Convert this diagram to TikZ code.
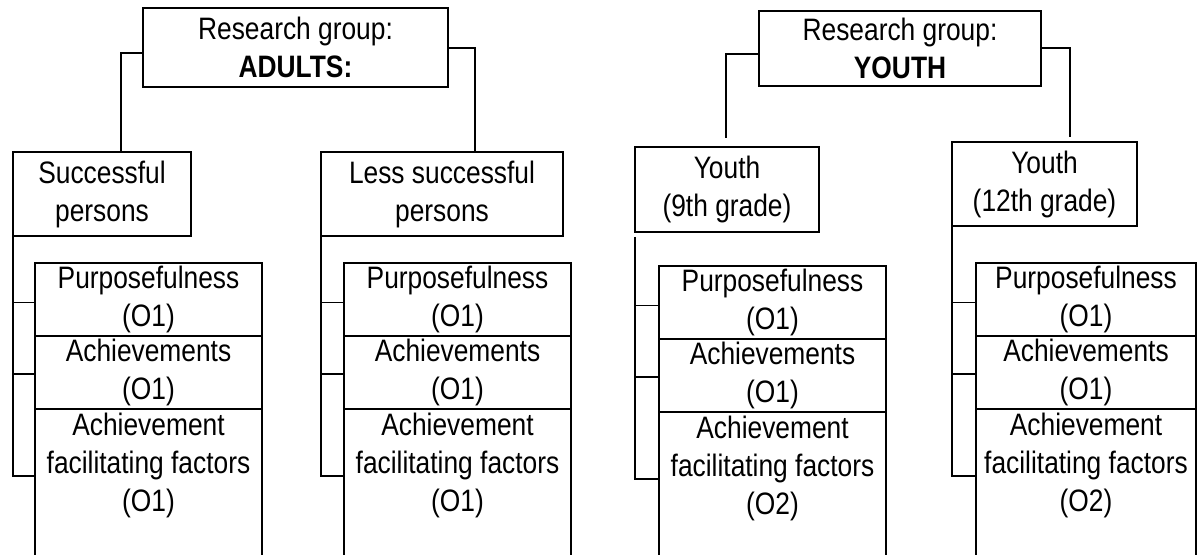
\documentclass[tikz,border=0pt]{standalone}
\usepackage{fontspec}
\setmainfont[FakeStretch=0.85]{Liberation Sans}
% one block of criteria under a group box:
% #1 prefix, #2 group node, #3 centre x, #4 top y, #5 width, #6 code of last block, #7 gap below group box
\newcommand\critcol[7]{%
  \node[box,minimum width=#5,minimum height=36.5pt] (#1p) at (#3,#4+36.5) {Purposefulness\\(O1)};
  \node[box,minimum width=#5,minimum height=36.5pt] (#1a) at (#3,#4+109.5) {Achievements\\(O1)};
  \node[minimum width=#5,minimum height=56pt,anchor=north] (#1f) at (#3,#4+146) {Achievement\\facilitating factors\\(#6)};
  \draw[line] (#1f.north west |- bot) -- (#1f.north west) -- (#1f.north east) -- (#1f.north east |- bot);
  \path (#1p.north west) ++(0,39.5) coordinate (#1t1);
  \path (#1a.north west) ++(0,38) coordinate (#1t2);
  \path (#1f.north west) ++(0,67) coordinate (#1t3);
  \draw[line] ([yshift=-#7]#2.south west) -- (#1t3 -| #2.west) -- (#1t3);
  \draw[line] (#1t1 -| #2.west) -- (#1t1);
  \draw[line] (#1t2 -| #2.west) -- (#1t2);
}
\begin{document}
\begin{tikzpicture}[x=0.5pt,y=-0.5pt,
  every node/.style={inner sep=0pt,outer sep=0pt,align=center,
    font=\fontsize{15.5pt}{19pt}\selectfont},
  line/.style={line width=0.85pt},
  box/.style={draw,line width=0.85pt}]
\useasboundingbox (0,0) rectangle (1198,555);
\coordinate (bot) at (0,555);

% research groups
\node[box,minimum width=152.5pt,minimum height=39.5pt] (adults) at (295.5,47.5) {Research group:\\\textbf{ADULTS:}};
\node[box,minimum width=141pt,minimum height=37.5pt] (youth) at (900,48.5) {Research group:\\\textbf{YOUTH}};

% sub-groups
\node[box,minimum width=89pt,minimum height=42pt] (succ) at (102,194) {Successful\\persons};
\node[box,minimum width=121pt,minimum height=42pt] (less) at (442,194) {Less successful\\persons};
\node[box,minimum width=92pt,minimum height=42.5pt] (nine) at (727,189.5) {Youth\\(9th grade)};
\node[box,minimum width=92.5pt,minimum height=42pt] (twelve) at (1044.5,184) {Youth\\(12th grade)};

% links from the research groups
\coordinate (aL) at (121,53);
\coordinate (aR) at (475,48);
\draw[line] (adults.west |- aL) -- (aL) -- (aL |- succ.north);
\draw[line] (adults.east |- aR) -- (aR) -- (aR |- less.north);
\coordinate (yL) at (726,54);
\coordinate (yLend) at (726,138);
\coordinate (yR) at (1070,48);
\coordinate (yRend) at (1070,137);
\draw[line] (youth.west |- yL) -- (yL) -- (yLend);
\draw[line] (youth.east |- yR) -- (yR) -- (yRend);

% criteria
\critcol{A}{succ}{148.5}{263}{113.5pt}{O1}{0pt}
\critcol{B}{less}{457.5}{263}{113.5pt}{O1}{0pt}
\critcol{C}{nine}{772.5}{266}{113.5pt}{O2}{2.5pt}
\critcol{D}{twelve}{1086}{263}{110pt}{O2}{0pt}
\end{tikzpicture}
\end{document}
